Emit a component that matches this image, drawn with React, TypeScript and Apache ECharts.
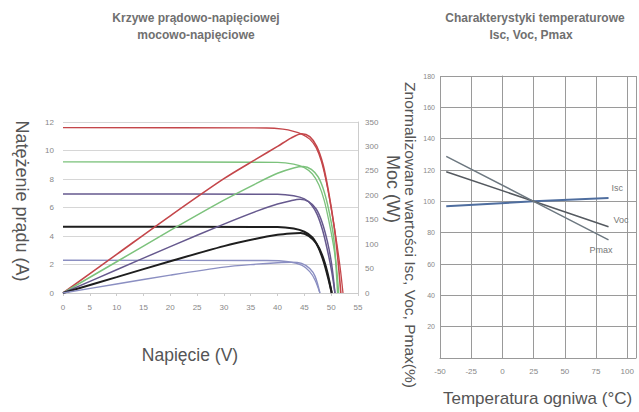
import React, { useEffect, useRef } from "react";
import * as echarts from "echarts";

// ---- Left chart: I-V and P-V curves (voltage in V) ----
const voltageTicks = [0, 55, 5];
// 1000 W/m2 (red)
const iv1000V = [0, 38, 41, 43, 44.5, 46, 47.2, 48.2, 49.2, 50.2, 51, 51.7, 52.2];
const iv1000I = [11.6, 11.58, 11.5, 11.35, 11.15, 10.8, 10.2, 9.2, 7.6, 5.5, 3.6, 1.7, 0];
const pv1000V = [0, 10, 20, 30, 36, 40, 42.5, 44.5, 46, 47.3, 48.5, 49.5, 50.5, 51.2, 51.8];
const pv1000P = [0, 79, 158, 234, 274, 300, 317, 326, 320, 300, 262, 208, 140, 75, 0];
// 800 W/m2 (green)
const iv800V = [0, 40, 43, 45, 46.5, 47.7, 48.7, 49.6, 50.4, 51, 51.4];
const iv800I = [9.2, 9.17, 9.05, 8.8, 8.35, 7.6, 6.5, 5.0, 3.4, 1.8, 0];
const pv800V = [0, 10, 20, 30, 36, 40, 43, 44.8, 46.3, 47.6, 48.7, 49.7, 50.5, 51.2];
const pv800P = [0, 64, 128, 190, 224, 245, 256, 259, 253, 237, 207, 162, 110, 0];
// 600 W/m2 (purple)
const iv600V = [0, 40, 43, 45, 46.3, 47.4, 48.4, 49.3, 50.1, 50.7];
const iv600I = [6.95, 6.93, 6.82, 6.6, 6.2, 5.5, 4.4, 3.0, 1.5, 0];
const pv600V = [0, 10, 20, 30, 36, 40, 42.5, 44.2, 45.8, 47.2, 48.3, 49.3, 50.1, 50.7];
const pv600P = [0, 47.5, 95, 141, 167, 182, 189, 192, 187, 172, 145, 105, 58, 0];
// 400 W/m2 (black)
const iv400V = [0, 40, 43, 45, 46.5, 47.6, 48.6, 49.4, 50.1];
const iv400I = [4.65, 4.63, 4.52, 4.3, 3.9, 3.2, 2.2, 1.1, 0];
const pv400V = [0, 10, 20, 30, 36, 40, 42.5, 44.3, 45.8, 47.2, 48.3, 49.3, 50.1];
const pv400P = [0, 32.5, 65, 96, 111, 119, 122, 123, 117, 102, 78, 42, 0];
// 200 W/m2 (blue-grey)
const iv200V = [0, 38, 42, 44.5, 46, 47, 47.9];
const iv200I = [2.3, 2.28, 2.2, 1.95, 1.5, 0.9, 0];
const pv200V = [0, 10, 20, 30, 36, 40, 42.5, 44.5, 46, 47, 47.9];
const pv200P = [0, 18.3, 36.6, 53, 59, 62, 63, 60.5, 50, 34, 0];

const currentTicks = [0, 12, 2];
const powerTicks = [0, 350, 50];

// ---- Right chart: temperature characteristics ----
const tempC = [-45, 25, 85];
const iscPct = [96.8, 100, 102.2];
const vocPct = [118.9, 100, 83.8];
const pmaxPct = [128.7, 100, 75.4];
const tempTicks = [-50, 107, 25];
const pctTicks = [0, 180, 20];

const FONT = "'Liberation Sans', Arial, sans-serif";

const zip = (xs: number[], ys: number[]) => xs.map((x, i) => [x, ys[i]]);

export default function App() {
  const ref = useRef<HTMLDivElement>(null);
  useEffect(() => {
    if (!ref.current) return;
    const chart = echarts.init(ref.current, undefined, { renderer: "svg" });

    const curve = (name: string, xs: number[], ys: number[], color: string, yAxisIndex: number, width = 1.5) => ({
      name,
      type: "line",
      xAxisIndex: 0,
      yAxisIndex,
      data: zip(xs, ys),
      showSymbol: false,
      smooth: 0.3,
      lineStyle: { color, width },
      itemStyle: { color },
    });

    const tempLine = (name: string, ys: number[], color: string, width: number, offset: number[]) => ({
      name,
      type: "line",
      xAxisIndex: 1,
      yAxisIndex: 2,
      data: zip(tempC, ys),
      showSymbol: false,
      lineStyle: { color, width },
      itemStyle: { color },
      endLabel: {
        show: true,
        formatter: name,
        color: "#777",
        fontSize: 9,
        fontFamily: FONT,
        offset,
      },
    });

    const red = "#c4464a";
    const green = "#7cc27c";
    const purple = "#66598e";
    const black = "#1e1e1e";
    const blue = "#8b8fc2";

    chart.setOption({
      animation: false,
      backgroundColor: "#ffffff",
      textStyle: { fontFamily: FONT },
      grid: [
        { left: 63, top: 122, width: 295, height: 171 },
        { left: 440, top: 76, width: 199, height: 282 },
      ],
      xAxis: [
        {
          gridIndex: 0,
          type: "value",
          min: voltageTicks[0],
          max: voltageTicks[1],
          interval: voltageTicks[2],
          axisLine: { show: true, lineStyle: { color: "#cccccc" } },
          axisTick: { show: true, length: 3, lineStyle: { color: "#cccccc" } },
          axisLabel: { fontSize: 8, color: "#888", margin: 10 },
          splitLine: { show: false },
        },
        {
          gridIndex: 1,
          type: "value",
          min: tempTicks[0],
          max: tempTicks[1],
          interval: tempTicks[2],
          axisLine: { show: true, lineStyle: { color: "#999" } },
          axisTick: { show: false },
          axisLabel: {
            fontSize: 8,
            color: "#888",
            margin: 9,
            formatter: (v: number) => (v % 25 === 0 ? String(v) : ""),
          },
          splitLine: { show: true, lineStyle: { color: "#9a9a9a", width: 1 } },
        },
      ],
      yAxis: [
        {
          gridIndex: 0,
          type: "value",
          position: "left",
          min: currentTicks[0],
          max: currentTicks[1],
          interval: currentTicks[2],
          axisLine: { show: false },
          axisTick: { show: false },
          axisLabel: { fontSize: 8, color: "#888", margin: 9 },
          splitLine: { show: true, lineStyle: { color: "#d6d6d6" } },
        },
        {
          gridIndex: 0,
          type: "value",
          position: "right",
          min: powerTicks[0],
          max: powerTicks[1],
          interval: powerTicks[2],
          axisLine: { show: true, lineStyle: { color: "#cccccc" } },
          axisTick: { show: false },
          axisLabel: { fontSize: 8, color: "#888", margin: 7 },
          splitLine: { show: false },
        },
        {
          gridIndex: 1,
          type: "value",
          min: pctTicks[0],
          max: pctTicks[1],
          interval: pctTicks[2],
          axisLine: { show: true, lineStyle: { color: "#999" } },
          axisTick: { show: false },
          axisLabel: { fontSize: 7, color: "#888", margin: 5, showMinLabel: false },
          splitLine: { show: true, lineStyle: { color: "#9a9a9a", width: 1 } },
        },
      ],
      series: [
        curve("I-V 1000", iv1000V, iv1000I, red, 0, 1.3),
        curve("I-V 800", iv800V, iv800I, green, 0, 1.3),
        curve("I-V 600", iv600V, iv600I, purple, 0, 1.5),
        curve("I-V 400", iv400V, iv400I, black, 0, 2),
        curve("I-V 200", iv200V, iv200I, blue, 0, 1.3),
        curve("P-V 1000", pv1000V, pv1000P, red, 1, 1.6),
        curve("P-V 800", pv800V, pv800P, green, 1, 1.5),
        curve("P-V 600", pv600V, pv600P, purple, 1, 1.5),
        curve("P-V 400", pv400V, pv400P, black, 1, 2),
        curve("P-V 200", pv200V, pv200P, blue, 1, 1.4),
        tempLine("Isc", iscPct, "#4f6e9f", 2, [-5, -10]),
        tempLine("Voc", vocPct, "#555a60", 1.5, [-3, -7]),
        tempLine("Pmax", pmaxPct, "#6d7880", 1.5, [-27, 10]),
      ],
      graphic: [
        { type: "text", x: 196, y: 18, style: { text: "Krzywe prądowo-napięciowej", fill: "#707070", align: "center", verticalAlign: "middle", font: `bold 12px ${FONT}` } },
        { type: "text", x: 196, y: 35, style: { text: "mocowo-napięciowe", fill: "#707070", align: "center", verticalAlign: "middle", font: `bold 12px ${FONT}` } },
        { type: "text", x: 535, y: 18, style: { text: "Charakterystyki temperaturowe", fill: "#707070", align: "center", verticalAlign: "middle", font: `bold 12px ${FONT}` } },
        { type: "text", x: 531, y: 35, style: { text: "Isc, Voc, Pmax", fill: "#707070", align: "center", verticalAlign: "middle", font: `bold 12px ${FONT}` } },
        { type: "text", x: 22, y: 201, rotation: -Math.PI / 2, style: { text: "Natężenie prądu (A)", fill: "#555", align: "center", verticalAlign: "middle", font: `18px ${FONT}` } },
        { type: "text", x: 393, y: 189, rotation: -Math.PI / 2, style: { text: "Moc (W)", fill: "#555", align: "center", verticalAlign: "middle", font: `18px ${FONT}` } },
        { type: "text", x: 190, y: 355, style: { text: "Napięcie (V)", fill: "#555", align: "center", verticalAlign: "middle", font: `17.5px ${FONT}` } },
        { type: "text", x: 443, y: 398, style: { text: "Temperatura ogniwa (°C)", fill: "#555", align: "left", verticalAlign: "middle", font: `17px ${FONT}` } },
        { type: "text", x: 410, y: 235, rotation: -Math.PI / 2, style: { text: "Znormalizowane wartości Isc, Voc, Pmax(%)", fill: "#555", align: "center", verticalAlign: "middle", font: `15.5px ${FONT}` } },
      ],
    });

    return () => chart.dispose();
  }, []);

  return (
    <div
      ref={ref}
      style={{ position: "fixed", left: 0, top: 0, width: 639, height: 412, background: "#fff" }}
    />
  );
}
